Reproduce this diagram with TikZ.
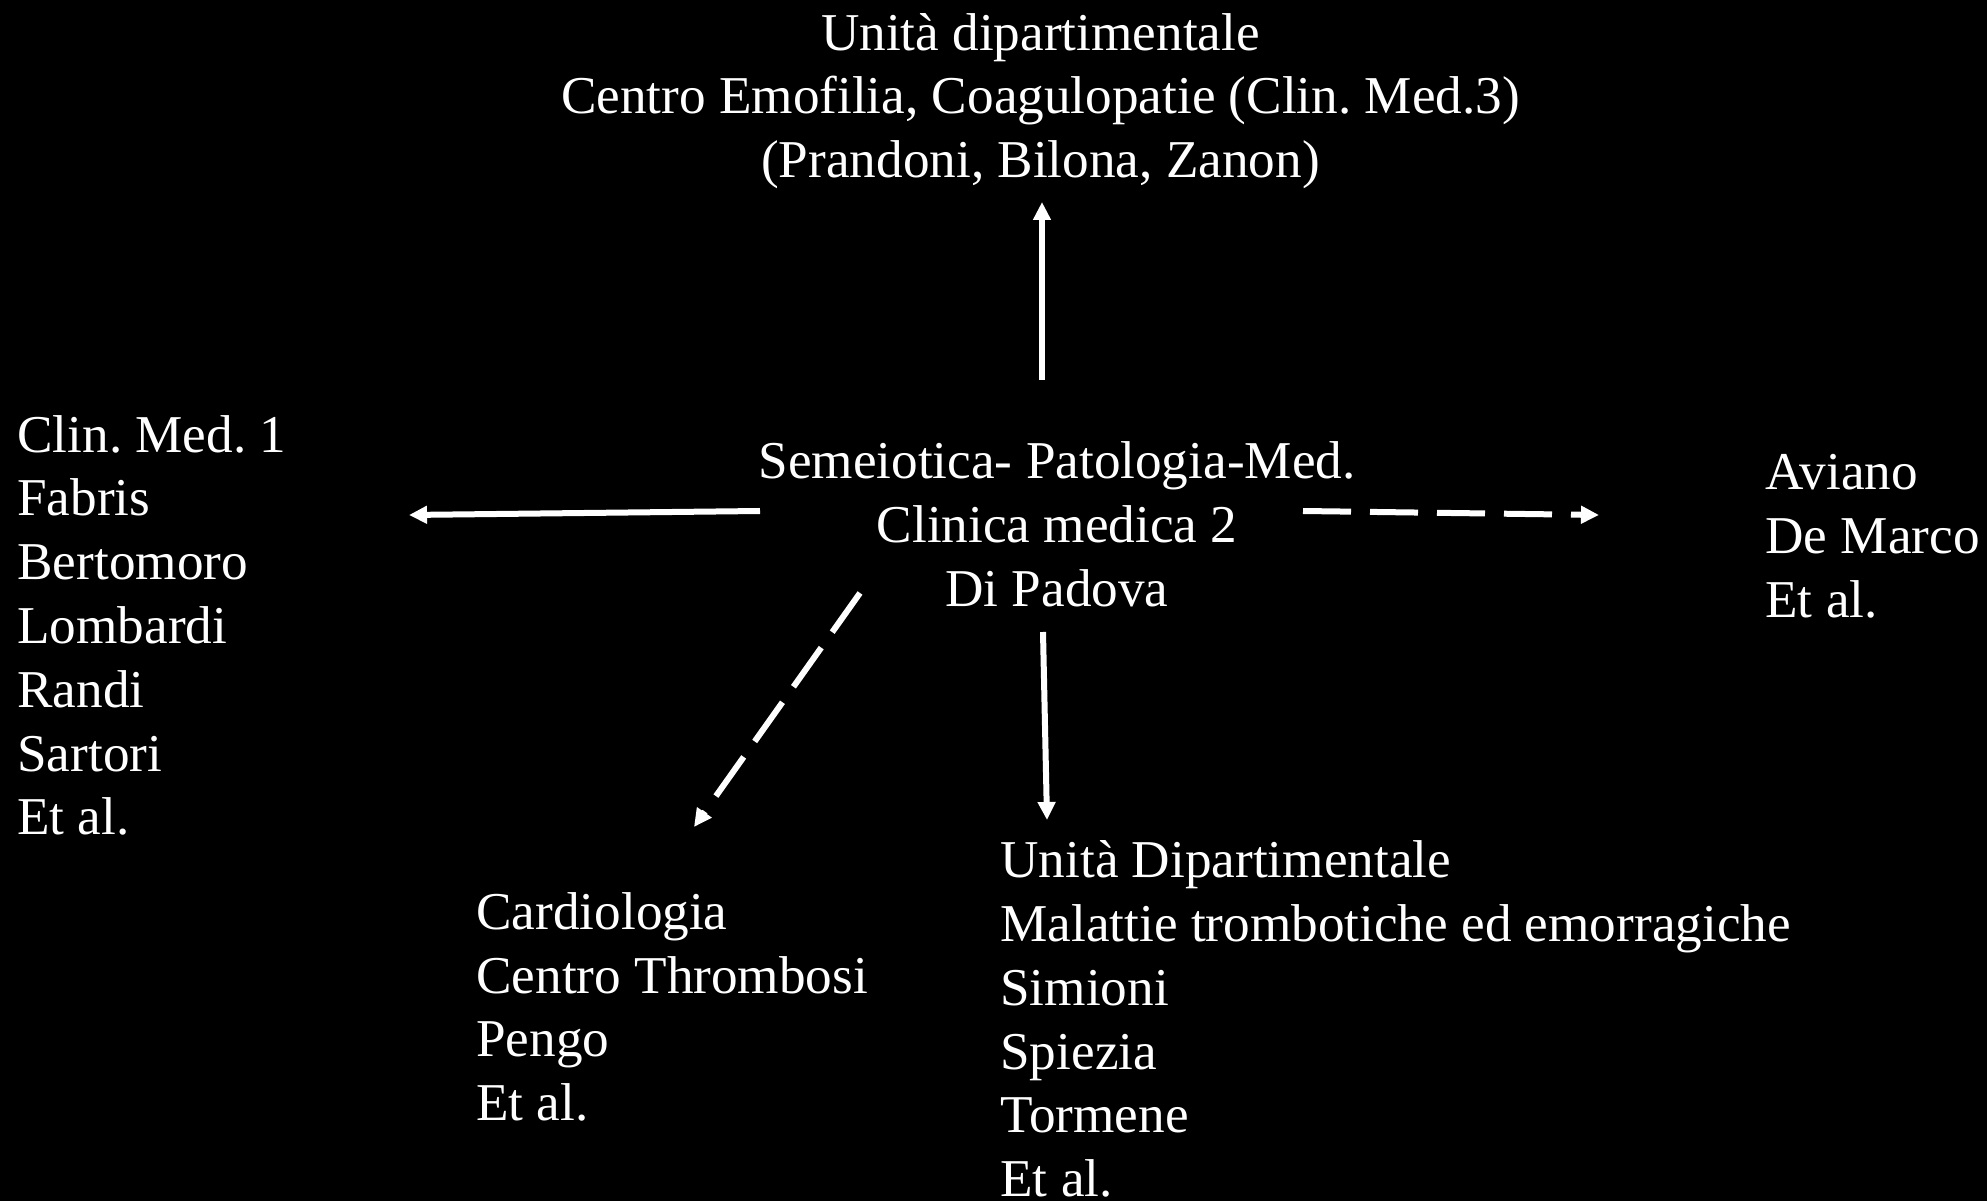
\documentclass[tikz,border=0pt]{standalone}
\usepackage{fontspec}
\setmainfont{Liberation Serif}
\usetikzlibrary{arrows.meta}
\frenchspacing

\begin{document}
\begin{tikzpicture}[x=0.5pt,y=0.5pt,
  txt/.style={text=white,inner sep=0pt,font=\fontsize{26.6}{31.9}\selectfont},
  arr/.style={white,line width=3pt,-{Triangle[width=8.5pt,length=9pt]}},
  dsh/.style={arr,dash pattern=on 24pt off 9.5pt}]

\useasboundingbox (0,0) rectangle (1987,1201);
\fill[black] (0,0) rectangle (1987,1201);

% the blocks of text
\node[txt,align=center] (top) at (1040.5,1100) {Unità dipartimentale\\Centro Emofilia, Coagulopatie (Clin. Med.3)\\(Prandoni, Bilona, Zanon)};
\node[txt,align=center] (centre) at (1057,676.5) {Semeiotica- Patologia-Med.\\Clinica medica 2\\Di Padova};
\node[txt,align=left,anchor=west] (clin1) at (17,575.5) {Clin. Med. 1\\Fabris\\Bertomoro\\Lombardi\\Randi\\Sartori\\Et al.};
\node[txt,align=left,anchor=west] (aviano) at (1765,664.5) {Aviano\\De Marco\\Et al.};
\node[txt,align=left,anchor=west] (cardio) at (476,194) {Cardiologia\\Centro Thrombosi\\Pengo\\Et al.};
\node[txt,align=left,anchor=west] (unita) at (1000,182) {Unità Dipartimentale\\Malattie trombotiche ed emorragiche\\Simioni\\Spiezia\\Tormene\\Et al.};

% arrow ends
\coordinate (up0) at (1042,821);
\coordinate (up1) at (1042,999);
\coordinate (lf0) at (760,690);
\coordinate (lf1) at (409,686);
\coordinate (rt0) at (1303,690);
\coordinate (rt1) at (1599,686);
\coordinate (dg0) at (860,608);
\coordinate (dg1) at (694,374);
\coordinate (dn0) at (1043,569);
\coordinate (dn1) at (1047,381);

\draw[arr] (up0) -- (up1);
\draw[arr] (lf0) -- (lf1);
\draw[dsh] (rt0) -- (rt1);
\draw[dsh] (dg0) -- (dg1);
\draw[arr] (dn0) -- (dn1);
\end{tikzpicture}
\end{document}
